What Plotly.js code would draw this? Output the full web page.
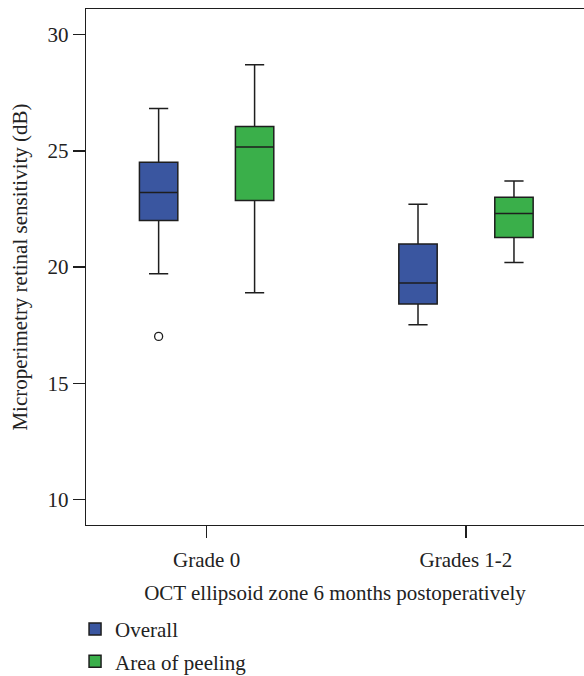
<!DOCTYPE html>
<html>
<head>
<meta charset="utf-8">
<script src="https://cdn.plot.ly/plotly-3.0.1.min.js"></script>
<style>html,body{margin:0;padding:0;background:#fff;}#chart{width:584px;height:676px;}</style>
</head>
<body>
<div id="chart"></div>
<script>
const categories = ['Grade 0', 'Grades 1-2'];

const overallLower = [19.72, 17.52];
const overallQ1 = [22.01, 18.41];
const overallMedian = [23.21, 19.32];
const overallQ3 = [24.51, 20.99];
const overallUpper = [26.82, 22.70];
const overallOutliers = [[17.02], []];

const peelingLower = [18.90, 20.20];
const peelingQ1 = [22.86, 21.27];
const peelingMedian = [25.17, 22.31];
const peelingQ3 = [26.05, 23.00];
const peelingUpper = [28.70, 23.70];

const yTicks = [10, 15, 20, 25, 30];

const FONT = 'Liberation Serif, Times New Roman, serif';
const LINE = '#1e1e1e';
const FS = 21;

const traces = [
  {
    type: 'box', name: 'Overall', legendgroup: 'a',
    x: categories, y: overallOutliers,
    q1: overallQ1, median: overallMedian, q3: overallQ3,
    lowerfence: overallLower, upperfence: overallUpper,
    boxpoints: 'outliers',
    fillcolor: '#3A56A0',
    line: {color: LINE, width: 1.5},
    marker: {symbol: 'circle-open', size: 8, color: LINE, line: {width: 1.3, color: LINE}},
    whiskerwidth: 0.5, hoverinfo: 'skip'
  },
  {
    type: 'box', name: 'Area of peeling', legendgroup: 'b',
    x: categories,
    q1: peelingQ1, median: peelingMedian, q3: peelingQ3,
    lowerfence: peelingLower, upperfence: peelingUpper,
    boxpoints: false,
    fillcolor: '#3AAF4A',
    line: {color: LINE, width: 1.5},
    whiskerwidth: 0.5, hoverinfo: 'skip'
  }
];

const layout = {
  width: 584, height: 676,
  margin: {l: 86, r: 0, t: 9, b: 151, autoexpand: false},
  paper_bgcolor: '#fff', plot_bgcolor: '#fff',
  font: {family: FONT, size: FS, color: '#222'},
  boxmode: 'group', boxgap: 0.26, boxgroupgap: 0.6,
  showlegend: true,
  legend: {
    orientation: 'v', x: -0.022, xanchor: 'left', y: -0.1625, yanchor: 'top',
    font: {family: FONT, size: FS, color: '#222'},
    traceorder: 'grouped', tracegroupgap: 2, bgcolor: 'rgba(0,0,0,0)'
  },
  xaxis: {
    type: 'category', range: [-0.465, 1.455],
    showline: true, linecolor: LINE, linewidth: 1.3, mirror: true,
    ticks: 'outside', ticklen: 12, tickcolor: LINE, tickwidth: 1.3,
    ticklabelstandoff: 3,
    showgrid: false, zeroline: false,
    tickfont: {family: FONT, size: FS, color: '#222'},
    title: {text: 'OCT ellipsoid zone 6 months postoperatively', font: {family: FONT, size: FS, color: '#222'}, standoff: 14}
  },
  yaxis: {
    range: [8.91, 31.1], tickvals: yTicks, ticktext: yTicks.map(String),
    showline: true, linecolor: LINE, linewidth: 1.3, mirror: false,
    ticks: 'outside', ticklen: 12, tickcolor: LINE, tickwidth: 1.3,
    showgrid: false, zeroline: false,
    tickfont: {family: FONT, size: FS, color: '#222'},
    title: {text: 'Microperimetry retinal sensitivity (dB)', font: {family: FONT, size: FS, color: '#222'}, standoff: 14}
  }
};

Plotly.newPlot('chart', traces, layout, {staticPlot: true, displayModeBar: false});
</script>
</body>
</html>
